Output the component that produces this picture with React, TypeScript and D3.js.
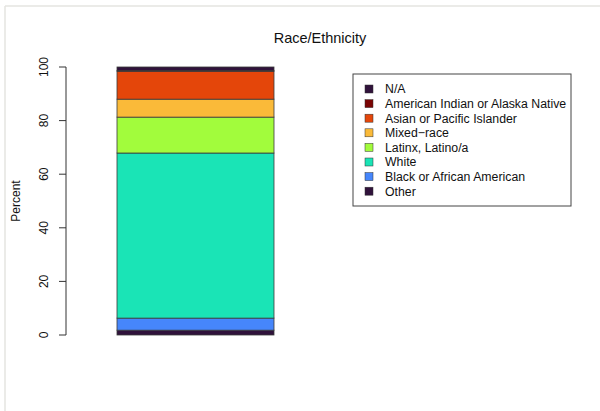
import React from "react";
import * as d3 from "d3";

const categories = [
  "Other",
  "Black or African American",
  "White",
  "Latinx, Latino/a",
  "Mixed\u2212race",
  "Asian or Pacific Islander",
  "American Indian or Alaska Native",
  "N/A",
];
const values = [1.8, 4.5, 61.6, 13.4, 6.7, 10.4, 0.3, 1.3];
const colors = ["#30123B", "#4686FB", "#1AE4B6", "#A2FC3C", "#FABA39", "#E4460A", "#7A0403", "#30123B"];
const yTicks = [0, 20, 40, 60, 80, 100];

const W = 600;
const H = 411;
const font = "'Liberation Sans', Arial, Helvetica, sans-serif";

export default function App() {
  const y = d3.scaleLinear().domain([0, 100]).range([335, 67]);
  const stacked: { cat: string; y0: number; y1: number; color: string }[] = [];
  let acc = 0;
  values.forEach((v, i) => {
    stacked.push({ cat: categories[i], y0: acc, y1: acc + v, color: colors[i] });
    acc += v;
  });
  const bx = 117;
  const bw = 157;
  const legendOrder = [...categories.keys()].reverse();
  return (
    <svg width={W} height={H} style={{ position: "absolute", left: 0, top: 0, background: "#fff" }}>
      <line x1={5} x2={600} y1={6} y2={6} stroke="#e4e4e0" strokeWidth={1.5} />
      <line x1={5} x2={5} y1={6} y2={411} stroke="#e4e4e0" strokeWidth={1.5} />
      <text x={320} y={43} textAnchor="middle" fontFamily={font} fontSize={14.5} fill="#111">
        Race/Ethnicity
      </text>
      {stacked.map((s, i) => (
        <rect
          key={i}
          x={bx}
          width={bw}
          y={y(s.y1)}
          height={y(s.y0) - y(s.y1)}
          fill={s.color}
          stroke="#3a3a3a"
          strokeWidth={0.8}
        />
      ))}
      <line x1={66} x2={66} y1={y(0)} y2={y(100)} stroke="#333" strokeWidth={1} />
      {yTicks.map((t) => (
        <g key={t}>
          <line x1={59} x2={66} y1={y(t)} y2={y(t)} stroke="#333" strokeWidth={1} />
          <text
            transform={`translate(48,${y(t)}) rotate(-90)`}
            textAnchor="middle"
            fontFamily={font}
            fontSize={12}
            fill="#111"
          >
            {t}
          </text>
        </g>
      ))}
      <text
        transform={`translate(20,201) rotate(-90)`}
        textAnchor="middle"
        fontFamily={font}
        fontSize={12}
        fill="#111"
      >
        Percent
      </text>
      <rect x={353} y={74} width={218} height={132} fill="#fff" stroke="#444" strokeWidth={1} />
      {legendOrder.map((ci, j) => {
        const ly = 89 + j * 14.6;
        return (
          <g key={ci}>
            <rect x={365} y={ly - 4} width={8} height={8} fill={colors[ci]} stroke="#333" strokeWidth={0.5} />
            <text x={385} y={ly + 4.3} fontFamily={font} fontSize={12.3} fill="#111">
              {categories[ci]}
            </text>
          </g>
        );
      })}
    </svg>
  );
}
